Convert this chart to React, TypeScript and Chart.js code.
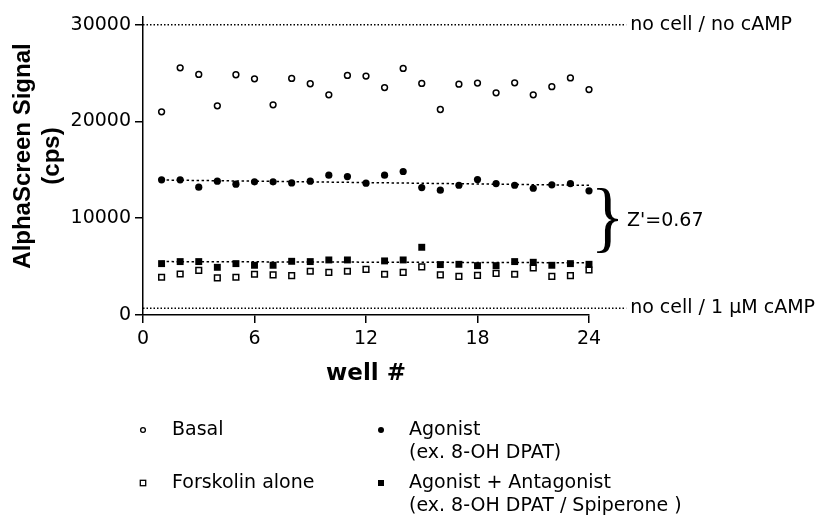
import React, { useEffect, useRef } from "react";
import { Chart, registerables } from "chart.js";

Chart.register(...registerables);

const wells = [1, 2, 3, 4, 5, 6, 7, 8, 9, 10, 11, 12, 13, 14, 15, 16, 17, 18, 19, 20, 21, 22, 23, 24];
const basal = [21000, 25550, 24860, 21620, 24830, 24410, 21720, 24450, 23900, 22760, 24760, 24690, 23510, 25480, 23930, 21240, 23860, 23970, 22960, 24000, 22760, 23600, 24500, 23300];
const agonist = [13970, 13970, 13210, 13830, 13520, 13760, 13760, 13650, 13830, 14450, 14310, 13620, 14450, 14830, 13170, 12900, 13410, 14000, 13580, 13410, 13100, 13450, 13580, 12830];
const forskolin = [3900, 4240, 4620, 3830, 3900, 4210, 4140, 4070, 4520, 4410, 4520, 4720, 4210, 4410, 4970, 4140, 4000, 4100, 4310, 4210, 4860, 4000, 4070, 4650];
const agonistAntagonist = [5310, 5520, 5520, 4930, 5310, 5140, 5140, 5550, 5520, 5690, 5690, null, 5590, 5690, 7000, 5210, 5240, 5100, 5100, 5520, 5450, 5140, 5310, 5240];

const fitX = [1, 24];
const agonistFit = [13950, 13400];
const antagonistFit = [5520, 5400];

const refX = [0, 26];
const noCellNoCamp = [30000, 30000];
const noCell1uM = [700, 700];

const xTicks = [0, 6, 12, 18, 24];
const yTicks = [0, 10000, 20000, 30000];

const braceRange = [13200, 6400];
const zPrime = "Z'=0.67";
const refLabels = ["no cell / no cAMP", "no cell / 1 \u03bcM cAMP"];
const yTitle = ["AlphaScreen Signal", "(cps)"];
const legendLeft = ["Basal", "Forskolin alone"];
const legendRight = [["Agonist", "(ex. 8-OH DPAT)"], ["Agonist + Antagonist", "(ex. 8-OH DPAT / Spiperone )"]];

const FONT = "'DejaVu Sans'";

const pts = (xs: number[], ys: (number | null)[]) => xs.map((x, i) => ({ x, y: ys[i] }));

export default function App() {
  const ref = useRef<HTMLCanvasElement | null>(null);

  useEffect(() => {
    if (!ref.current) return;

    const annot = {
      id: "annot",
      afterDraw(chart: any) {
        const ctx = chart.ctx as CanvasRenderingContext2D;
        const xs = chart.scales.x;
        const ys = chart.scales.y;
        ctx.save();
        ctx.fillStyle = "#000";
        ctx.strokeStyle = "#000";

        // y axis title (two lines, rotated)
        ctx.save();
        ctx.font = "bold 24px 'Liberation Sans'";
        ctx.textAlign = "center";
        ctx.textBaseline = "middle";
        const cy = (ys.top + ys.bottom) / 2 - 10;
        ctx.translate(23, cy);
        ctx.rotate(-Math.PI / 2);
        ctx.fillText(yTitle[0], 0, 0);
        ctx.fillText(yTitle[1], 0, 29);
        ctx.restore();

        ctx.font = `19px ${FONT}`;
        ctx.textBaseline = "middle";
        ctx.textAlign = "left";
        const lx = xs.getPixelForValue(refX[1]) + 4;
        ctx.fillText(refLabels[0], lx, ys.getPixelForValue(noCellNoCamp[0]));
        ctx.fillText(refLabels[1], lx, ys.getPixelForValue(noCell1uM[0]));

        // brace
        const bTop = ys.getPixelForValue(braceRange[0]);
        const bBot = ys.getPixelForValue(braceRange[1]);
        const bx = xs.getPixelForValue(24) + 8;
        const bw = 21;
        ctx.save();
        ctx.font = "100px 'Liberation Serif'";
        ctx.textBaseline = "alphabetic";
        const m = ctx.measureText("}");
        const w = m.actualBoundingBoxLeft + m.actualBoundingBoxRight;
        const h = m.actualBoundingBoxAscent + m.actualBoundingBoxDescent;
        ctx.translate(bx, bTop);
        ctx.scale(bw / w, (bBot - bTop) / h);
        ctx.fillText("}", m.actualBoundingBoxLeft, m.actualBoundingBoxAscent);
        ctx.restore();

        ctx.font = `19px ${FONT}`;
        ctx.fillText(zPrime, bx + bw + 9, (bTop + bBot) / 2 + 1);

        // legend
        const c1 = 143, c2 = 381, t1 = 172, t2 = 409;
        const r1 = 430, r2 = 483, lh = 23;
        ctx.lineWidth = 1.3;
        ctx.beginPath();
        ctx.arc(c1, r1, 2.4, 0, Math.PI * 2);
        ctx.fillStyle = "#fff";
        ctx.fill();
        ctx.stroke();
        ctx.fillStyle = "#000";
        ctx.beginPath();
        ctx.arc(c2, r1, 3, 0, Math.PI * 2);
        ctx.fill();
        ctx.fillStyle = "#fff";
        ctx.fillRect(c1 - 2.7, r2 - 2.7, 5.4, 5.4);
        ctx.strokeRect(c1 - 2.7, r2 - 2.7, 5.4, 5.4);
        ctx.fillStyle = "#000";
        ctx.fillRect(c2 - 3, r2 - 3, 6, 6);

        ctx.fillText(legendLeft[0], t1, r1);
        ctx.fillText(legendLeft[1], t1, r2);
        ctx.fillText(legendRight[0][0], t2, r1);
        ctx.fillText(legendRight[0][1], t2, r1 + lh);
        ctx.fillText(legendRight[1][0], t2, r2);
        ctx.fillText(legendRight[1][1], t2, r2 + lh);
        ctx.restore();
      },
    };

    const lineDs = (label: string, xs: number[], ys: number[], dash: number[], width: number) => ({
      label,
      data: pts(xs, ys),
      showLine: true,
      borderColor: "#000",
      borderWidth: width,
      borderDash: dash,
      pointRadius: 0,
      fill: false,
      clip: false as any,
    });

    const chart = new Chart(ref.current, {
      type: "scatter",
      data: {
        datasets: [
          {
            label: "Agonist + Antagonist",
            data: pts(wells, agonistAntagonist),
            pointStyle: "rect",
            pointRadius: 4.9,
            backgroundColor: "#000",
            borderColor: "#000",
            borderWidth: 0,
            clip: false as any,
          },
          {
            label: "Forskolin alone",
            data: pts(wells, forskolin),
            pointStyle: "rect",
            pointRadius: 4,
            backgroundColor: "#fff",
            borderColor: "#000",
            borderWidth: 1.5,
            clip: false as any,
          },
          {
            label: "Agonist",
            data: pts(wells, agonist),
            pointStyle: "circle",
            pointRadius: 3.6,
            backgroundColor: "#000",
            borderColor: "#000",
            borderWidth: 0,
            clip: false as any,
          },
          {
            label: "Basal",
            data: pts(wells, basal),
            pointStyle: "circle",
            pointRadius: 2.9,
            backgroundColor: "#fff",
            borderColor: "#000",
            borderWidth: 1.5,
            clip: false as any,
          },
          lineDs("Agonist fit", fitX, agonistFit, [2.5, 2.5], 1.5),
          lineDs("Agonist + Antagonist fit", fitX, antagonistFit, [2.5, 2.5], 1.5),
          lineDs("no cell / no cAMP", refX, noCellNoCamp, [1.5, 2], 1.3),
          lineDs("no cell / 1 uM cAMP", refX, noCell1uM, [1.5, 2], 1.3),
        ] as any,
      },
      options: {
        animation: false,
        responsive: true,
        maintainAspectRatio: false,
        layout: { padding: { top: 17, right: 227, bottom: 124, left: 0 } },
        plugins: { legend: { display: false }, tooltip: { enabled: false } },
        scales: {
          x: {
            type: "linear",
            min: 0,
            max: 24,
            afterBuildTicks: (s: any) => {
              s.ticks = xTicks.map((v) => ({ value: v }));
            },
            afterFit: (s: any) => {
              s.height = 80;
            },
            ticks: {
              color: "#000",
              font: { family: FONT, size: 19 },
              padding: 5,
              callback: (v: any) => String(v),
            },
            grid: { display: true, drawOnChartArea: false, drawTicks: true, tickLength: 8, color: "#000", lineWidth: 1.5 },
            border: { display: true, color: "#000", width: 1.5 },
            title: {
              display: true,
              text: "well #",
              color: "#000",
              font: { family: FONT, size: 23, weight: "bold" },
              padding: { top: 0, bottom: 7 },
            },
          },
          y: {
            type: "linear",
            min: 0,
            max: 30800,
            afterBuildTicks: (s: any) => {
              s.ticks = yTicks.map((v) => ({ value: v }));
            },
            afterFit: (s: any) => {
              s.width = 143;
            },
            ticks: {
              color: "#000",
              font: { family: FONT, size: 19 },
              padding: 4,
              callback: (v: any) => String(v),
            },
            grid: { display: true, drawOnChartArea: false, drawTicks: true, tickLength: 8, color: "#000", lineWidth: 1.5 },
            border: { display: true, color: "#000", width: 1.5 },
            title: { display: false, text: yTitle },
          },
        },
      },
      plugins: [annot],
    });

    return () => chart.destroy();
  }, []);

  return (
    <div style={{ position: "absolute", left: 0, top: 0, width: 816, height: 519, background: "#fff" }}>
      <canvas ref={ref} />
    </div>
  );
}
